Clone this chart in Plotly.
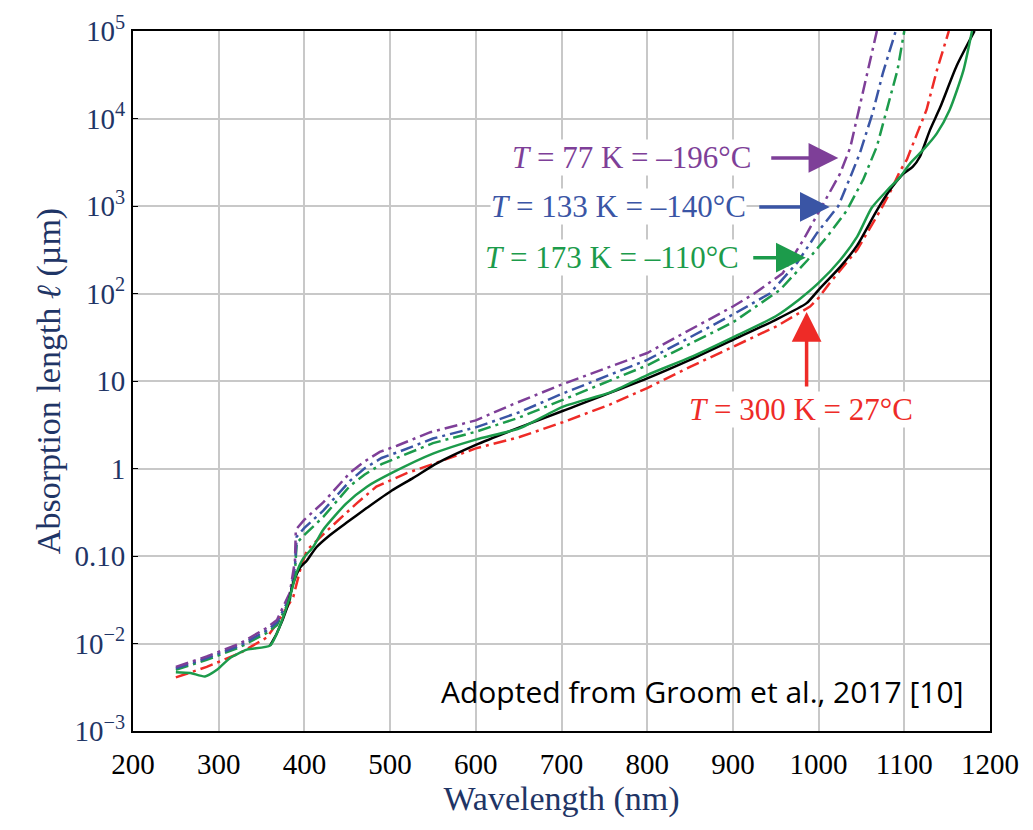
import plotly.graph_objects as go

# Absorption length of silicon vs wavelength

# T = 77 K (purple, dash-dot)
wl_77 = [250, 286, 325, 356, 368, 383, 389, 390, 400, 422, 453, 470, 488, 508, 547,
         600, 643, 700, 800, 900, 925, 958, 982, 1013, 1025, 1037, 1048, 1060, 1068]
len_77 = [0.0054, 0.0071, 0.0100, 0.0151, 0.0186, 0.038, 0.089, 0.20, 0.26, 0.41, 0.89,
          1.2, 1.55, 1.82, 2.6, 3.55, 5.4, 9.1, 20.9, 71, 100, 170, 407, 1410, 2340,
          4680, 13500, 44700, 100000]

# T = 133 K (blue, dash-dot)
wl_133 = [250, 286, 325, 356, 368, 383, 389, 391, 400, 422, 453, 470, 490, 510, 550,
          600, 650, 700, 800, 900, 943, 975, 998, 1023, 1037, 1048, 1063, 1075, 1090]
len_133 = [0.0052, 0.0068, 0.0095, 0.0141, 0.0174, 0.034, 0.076, 0.166, 0.21, 0.33, 0.72,
           1.0, 1.32, 1.55, 2.2, 2.95, 4.37, 7.1, 17.4, 57.5, 100, 224, 490, 1000, 2140,
           3980, 11500, 33100, 100000]

# T = 173 K (green, dash-dot)
wl_173 = [250, 286, 325, 356, 368, 383, 389, 391, 400, 422, 453, 470, 490, 510, 550,
          600, 650, 700, 800, 900, 955, 987, 1010, 1033, 1052, 1068, 1080, 1092, 1100]
len_173 = [0.0050, 0.0065, 0.0091, 0.0132, 0.0162, 0.0316, 0.066, 0.141, 0.174, 0.28, 0.63,
           0.85, 1.12, 1.35, 1.95, 2.63, 3.8, 6.0, 15.1, 46.8, 110, 240, 447, 891, 2000,
           4790, 12600, 35500, 100000]

# T = 300 K (red, dash-dot)
wl_300 = [250, 286, 325, 356, 368, 387, 395, 403, 430, 461, 484, 520, 555, 600, 651, 702,
          757, 800, 850, 900, 950, 990, 1000, 1013, 1045, 1072, 1083, 1095, 1103, 1115,
          1126, 1138, 1150, 1152]
len_300 = [0.0041, 0.0054, 0.0078, 0.0117, 0.017, 0.034, 0.069, 0.117, 0.21, 0.40, 0.62,
           0.89, 1.17, 1.70, 2.29, 3.39, 5.4, 8.3, 14.5, 24.5, 41.7, 70.8, 89, 132, 316, 891,
           1410, 2510, 3390, 6760, 12600, 35500, 89100, 100000]

# black solid curve
wl_black = [360, 368, 380, 387, 395, 403, 414, 430, 449, 473, 502, 527, 555, 600, 651, 702,
            800, 850, 900, 950, 986, 1000, 1025, 1045, 1068, 1083, 1099, 1110, 1118, 1130,
            1142, 1161, 1182]
len_black = [0.0095, 0.0132, 0.026, 0.049, 0.074, 0.089, 0.126, 0.174, 0.24, 0.355, 0.56,
             0.78, 1.15, 1.86, 2.95, 4.57, 10.7, 17.4, 29.5, 50.1, 77.6, 110, 200, 355, 891,
             1510, 2340, 2820, 3630, 7410, 13500, 39800, 100000]

# green solid curve
wl_green = [250, 267, 284, 298, 313, 333, 360, 371, 383, 391, 399, 410, 422, 449, 473, 502,
            550, 600, 651, 702, 757, 800, 850, 900, 950, 977, 1000, 1025, 1045, 1062, 1080,
            1095, 1107, 1122, 1138, 1153, 1169, 1179]
len_green = [0.0047, 0.0046, 0.0042, 0.0050, 0.0068, 0.0085, 0.0095, 0.0155, 0.034, 0.065,
             0.095, 0.126, 0.20, 0.40, 0.62, 0.89, 1.48, 2.14, 2.88, 5.1, 7.4, 11.7, 18.6,
             31.6, 55, 85, 132, 240, 447, 955, 1510, 2140, 3090, 4370, 6760, 12600, 35500,
             100000]

y_tickvals = [0.001, 0.01, 0.1, 1, 10, 100, 1000, 10000, 100000]
y_ticktext = ["10<sup>\u22123</sup>", "10<sup>\u22122</sup>", "0.10", "1", "10",
              "10<sup>2</sup>", "10<sup>3</sup>", "10<sup>4</sup>", "10<sup>5</sup>"]

PURPLE = "#7E3F98"
BLUE = "#3A55A5"
GREEN = "#1C9B4B"
RED = "#EE2B27"
NAVY = "#1F3566"
DASH = "13px,5px,3px,5px"

fig = go.Figure()

fig.add_trace(go.Scatter(x=wl_300, y=len_300, mode="lines",
                         line=dict(color=RED, width=2.5, dash=DASH)))
fig.add_trace(go.Scatter(x=wl_173, y=len_173, mode="lines",
                         line=dict(color=GREEN, width=2.5, dash=DASH)))
fig.add_trace(go.Scatter(x=wl_133, y=len_133, mode="lines",
                         line=dict(color=BLUE, width=2.5, dash=DASH)))
fig.add_trace(go.Scatter(x=wl_77, y=len_77, mode="lines",
                         line=dict(color=PURPLE, width=2.5, dash=DASH)))
fig.add_trace(go.Scatter(x=wl_black, y=len_black, mode="lines",
                         line=dict(color="black", width=2.5, shape="spline", smoothing=0.6)))
fig.add_trace(go.Scatter(x=wl_green, y=len_green, mode="lines",
                         line=dict(color=GREEN, width=2.5, shape="spline", smoothing=0.6)))

serif = "Liberation Serif, Times New Roman, serif"

# labels for the temperature curves
labels = [
    ("<i>T</i> = 77 K = \u2013196\u00b0C", PURPLE, 922, 3.55),
    ("<i>T</i> = 133 K = \u2013140\u00b0C", BLUE, 916, 2.99),
    ("<i>T</i> = 173 K = \u2013110\u00b0C", GREEN, 908, 2.41),
]
for text, color, xr, ly in labels:
    fig.add_annotation(x=xr, y=ly, text=text, showarrow=False, xanchor="right",
                       font=dict(family=serif, size=31, color=color),
                       bgcolor="white", borderpad=0)

fig.add_annotation(x=979, y=0.68, text="<i>T</i> = 300 K = 27\u00b0C", showarrow=False,
                   font=dict(family=serif, size=31, color=RED),
                   bgcolor="white", borderpad=0)

# arrows
arrows = [
    (PURPLE, 943, 3.55, 1023, 3.55),
    (BLUE, 929, 2.99, 1013, 2.99),
    (GREEN, 922, 2.41, 985, 2.41),
    (RED, 986, 0.92, 986, 1.79),
]
for color, x0, y0, x1, y1 in arrows:
    fig.add_annotation(x=x1, y=y1, ax=x0, ay=y0, axref="x", ayref="y",
                       text="", showarrow=True, arrowhead=2, arrowsize=1.7,
                       arrowwidth=3.5, arrowcolor=color, standoff=0)

fig.add_annotation(x=1171, y=-2.55, text="Adopted from Groom et al., 2017 [10]",
                   showarrow=False, xanchor="right",
                   font=dict(family="Open Sans, sans-serif", size=30, color="black"))

# the page adds an 8px body margin, so the margins are shifted by that amount
fig.update_layout(
    width=1033, height=830,
    margin=dict(l=125, r=51, t=23, b=107),
    paper_bgcolor="white", plot_bgcolor="white",
    showlegend=False,
)

fig.update_xaxes(
    range=[200, 1200], dtick=100, tick0=200, automargin=False,
    showgrid=True, gridcolor="#C8C8C8", gridwidth=2,
    showline=True, linecolor="black", linewidth=2, mirror=True,
    ticks="", ticklabelstandoff=6,
    tickfont=dict(family=serif, size=29, color="black"),
    title=dict(text="Wavelength (nm)", font=dict(family=serif, size=34, color=NAVY),
               standoff=0),
)
fig.update_yaxes(
    type="log", range=[-3, 5], automargin=False,
    tickvals=y_tickvals, ticktext=y_ticktext,
    showgrid=True, gridcolor="#C8C8C8", gridwidth=2,
    showline=True, linecolor="black", linewidth=2, mirror=True,
    ticks="inside", ticklen=5, tickcolor="black",
    tickfont=dict(family=serif, size=29, color=NAVY),
    title=dict(text="Absorption length <i>\u2113</i> (\u00b5m)",
               font=dict(family=serif, size=34, color=NAVY), standoff=4),
)

fig.write_html("out.html")
